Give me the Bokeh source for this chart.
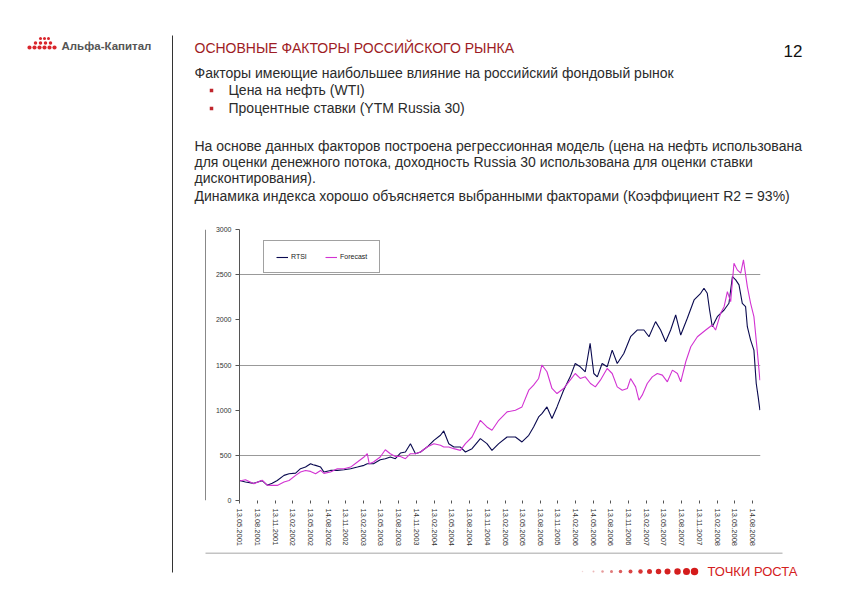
import pandas as pd
from bokeh.plotting import figure
from bokeh.layouts import row, column
from bokeh.models import Range1d, FixedTicker, Legend, LegendItem
from bokeh.core.properties import value
from bokeh.embed import file_html
from bokeh.resources import INLINE

# ---------------- data ----------------
start_date = "13.05.2001"
tick_dates = ["13.05.2001", "13.08.2001", "13.11.2001", "13.02.2002", "13.05.2002", "14.08.2002",
              "13.11.2002", "13.02.2003", "13.05.2003", "13.08.2003", "14.11.2003", "13.02.2004",
              "13.05.2004", "13.08.2004", "13.11.2004", "13.02.2005", "13.05.2005", "13.08.2005",
              "13.11.2005", "14.02.2006", "14.05.2006", "13.08.2006", "13.11.2006", "13.02.2007",
              "13.05.2007", "13.08.2007", "13.11.2007", "13.02.2008", "13.05.2008", "14.08.2008"]

# days since start_date
rtsi_day = [0, 31, 74, 117, 143, 169, 195, 230, 256, 290, 315, 341, 367, 380, 393, 419, 436, 470,
            505, 540, 574, 609, 643, 660, 692, 727, 753, 779, 805, 831, 857, 883, 909, 935, 969,
            1004, 1038, 1055, 1081, 1107, 1141, 1167, 1201, 1244, 1278, 1304, 1339, 1382, 1425,
            1459, 1494, 1519, 1545, 1562, 1588, 1614, 1640, 1674, 1708, 1734, 1760, 1786, 1811,
            1830, 1848, 1873, 1899, 1925, 1951, 1985, 2020, 2054, 2089, 2115, 2149, 2175, 2201,
            2227, 2253, 2279, 2313, 2348, 2382, 2399, 2416, 2428, 2442, 2468, 2503, 2528, 2546,
            2563, 2580, 2597, 2614, 2623, 2640, 2657, 2669, 2679, 2688]
rtsi_value = [222, 205, 190, 220, 170, 192, 222, 278, 296, 303, 352, 370, 407, 395, 389, 370, 315, 333,
              333, 340, 352, 370, 389, 407, 407, 451, 463, 481, 463, 525, 537, 629, 518, 537, 592,
              666, 722, 770, 629, 592, 592, 537, 574, 685, 629, 555, 629, 703, 703,
              648, 722, 814, 925, 962, 1036, 907, 1036, 1221, 1369, 1517, 1480, 1425, 1739,
              1406, 1369, 1517, 1480, 1665, 1517, 1628, 1813, 1887, 1887, 1813, 1980, 1887, 1758,
              1887, 2054, 1832, 2017, 2220, 2294, 2350, 2294, 2109, 1924, 2035, 2109, 2183, 2479,
              2442, 2387, 2183, 2146, 1924, 1776, 1665, 1295, 1147, 1000]

forecast_day = [0, 31, 74, 117, 143, 169, 195, 230, 256, 290, 315, 341, 367, 393, 419, 436, 470,
                505, 540, 574, 609, 643, 660, 670, 692, 727, 753, 779, 805, 831, 857, 883, 909, 935,
                969, 1004, 1038, 1055, 1081, 1107, 1141, 1167, 1201, 1244, 1278, 1304, 1339, 1382,
                1425, 1459, 1494, 1519, 1545, 1562, 1588, 1614, 1640, 1674, 1708, 1734, 1760, 1786,
                1813, 1838, 1864, 1899, 1925, 1951, 1977, 2003, 2020, 2046, 2063, 2080, 2106, 2132,
                2158, 2184, 2210, 2236, 2262, 2279, 2305, 2331, 2365, 2408, 2442, 2459, 2485, 2503,
                2520, 2537, 2554, 2571, 2589, 2603, 2623, 2640, 2657, 2674, 2688]
forecast_value = [215, 230, 185, 225, 170, 167, 167, 204, 222, 278, 315, 333, 322, 296, 333, 300, 315,
                  352, 352, 370, 426, 481, 518, 407, 426, 481, 562, 518, 488, 488, 463, 518, 518, 537,
                  592, 629, 611, 592, 592, 574, 555, 629, 703, 888, 814, 777, 888, 981,
                  1000, 1036, 1221, 1277, 1351, 1500, 1425, 1240, 1184, 1240, 1332, 1406, 1351, 1369,
                  1295, 1258, 1332, 1462, 1406, 1258, 1221, 1240, 1350, 1258, 1110, 1166, 1295, 1369,
                  1406, 1388, 1314, 1443, 1406, 1314, 1536, 1702, 1813, 1887, 1943, 1887, 2072, 2146,
                  2313, 2202, 2627, 2553, 2516, 2664, 2368, 2183, 2035, 1665, 1332]

y_ticks = [0, 500, 1000, 1500, 2000, 2500, 3000]
y_grid = [500, 1500, 2500, 3000]
series_names = ["RTSI", "Forecast"]

title_text = "ОСНОВНЫЕ ФАКТОРЫ РОССИЙСКОГО РЫНКА"
page_number = "12"
intro_line = "Факторы имеющие наибольшее влияние на российский фондовый рынок"
bullets = ["Цена на нефть (WTI)", "Процентные ставки (YTM Russia 30)"]
paragraph = ["На основе данных факторов построена регрессионная модель (цена на нефть использована",
             "для оценки денежного потока, доходность Russia 30 использована для оценки ставки",
             "дисконтирования).",
             "Динамика индекса хорошо объясняется выбранными факторами (Коэффициент R2 = 93%)"]
company = "Альфа-Капитал"
slogan = "ТОЧКИ РОСТА"

FONT = "Liberation Sans"
W, H = 826, 579
TEXT_C = "#2b2b2b"


def deco(x0, x1, y0, y1):
    """A blank panel whose data coordinates equal page pixel coordinates."""
    f = figure(width=x1 - x0, height=y1 - y0, x_range=Range1d(x0, x1), y_range=Range1d(y1, y0),
               output_backend="svg", toolbar_location=None, min_border=0,
               x_axis_location=None, y_axis_location=None)
    f.grid.visible = False
    f.outline_line_color = None
    f.background_fill_color = "white"
    f.border_fill_color = "white"
    return f


def put_text(f, xs, ys, texts, size, color=TEXT_C, style="normal", align="left"):
    f.text(x=xs, y=ys, text=texts, text_font=value(FONT), text_font_size=value(f"{size}px"),
           text_color=color, text_font_style=style, text_align=align, text_baseline="middle")


# ---------------- left panel: logo + separator ----------------
L = deco(0, 180, 0, H)
L.segment(x0=[172], y0=[35], x1=[172], y1=[572], line_color="#333333", line_width=1)
logo_x = [40, 44, 48, 35, 40, 45, 50, 29, 34, 39, 44, 49, 54]
logo_y = [38, 38, 38, 42.5, 42.5, 42.5, 42.5, 47, 47, 47, 47, 47, 47]
logo_s = [3, 3, 3, 3.5, 3.5, 3.5, 3.5, 4.2, 4.2, 4.2, 4.2, 4.2, 4.2]
L.scatter(logo_x, logo_y, size=logo_s, marker="circle", color="#d9262c", line_color=None)
put_text(L, [61], [45], [company], 11.5, color="#555555", style="bold")

# ---------------- header ----------------
HD = deco(180, W, 0, 218)
put_text(HD, [194], [47], [title_text], 14, color="#9e1c24")
put_text(HD, [783], [50], [page_number], 17, color="#111111")
put_text(HD, [194], [72], [intro_line], 14)
HD.scatter([211, 211], [90, 108], marker="square", size=3.5, color="#c0262d", line_color=None)
put_text(HD, [228, 228], [89, 107], bullets, 14)
put_text(HD, [194] * 4, [145, 161, 177, 195], paragraph, 14)

# ---------------- chart border strip ----------------
B = deco(180, 206, 218, 552)
B.segment(x0=[205], y0=[218], x1=[205], y1=[552], line_color="#888888", line_width=1)

# ---------------- chart ----------------
start = pd.to_datetime(start_date, format="%d.%m.%Y")
tick_days = [int((pd.to_datetime(d, format="%d.%m.%Y") - start).days) for d in tick_dates]

C = figure(width=W - 206, height=552 - 218, output_backend="svg", toolbar_location=None,
           x_range=Range1d(0, 2691), y_range=Range1d(0, 3000),
           min_border_left=239 - 206, min_border_right=W - 760,
           min_border_top=229 - 218, min_border_bottom=552 - 500)
C.outline_line_color = None
C.background_fill_color = "white"
C.border_fill_color = "white"

r1 = C.line(rtsi_day, rtsi_value, line_color="#0a0a50", line_width=1.1)
r2 = C.line(forecast_day, forecast_value, line_color="#d233d2", line_width=1.1)

C.yaxis.ticker = FixedTicker(ticks=y_ticks)
C.yaxis.axis_line_color = "#555555"
C.yaxis.major_tick_line_color = "#555555"
C.yaxis.major_tick_out = 4
C.yaxis.major_tick_in = 0
C.yaxis.minor_tick_line_color = None
C.yaxis.major_label_text_font = FONT
C.yaxis.major_label_text_font_size = "7px"
C.yaxis.major_label_text_color = "#333333"
C.yaxis.major_label_standoff = 4

C.xaxis.ticker = FixedTicker(ticks=tick_days)
C.xaxis.major_label_overrides = {d: s for d, s in zip(tick_days, tick_dates)}
C.xaxis.major_label_orientation = "vertical"
C.xaxis.axis_line_color = None
C.xaxis.major_tick_line_color = "#555555"
C.xaxis.major_tick_out = 3
C.xaxis.major_tick_in = 0
C.xaxis.minor_tick_line_color = None
C.xaxis.major_label_text_font = FONT
C.xaxis.major_label_text_font_size = "7.5px"
C.xaxis.major_label_text_color = "#333333"
C.xaxis.major_label_standoff = 5

C.xgrid.visible = False
C.ygrid.ticker = FixedTicker(ticks=y_grid)
C.ygrid.grid_line_color = "#999999"
C.ygrid.grid_line_width = 1

legend = Legend(items=[LegendItem(label=series_names[0], renderers=[r1]),
                       LegendItem(label=series_names[1], renderers=[r2])],
                location=(263 - 239, 500 - 273), orientation="horizontal", padding=12,
                spacing=14, glyph_width=12, glyph_height=6, label_height=6,
                label_standoff=3, label_text_font=FONT, label_text_font_size="7px",
                label_text_color="#222222", border_line_color="#444444",
                border_line_width=1, margin=0, background_fill_color="white",
                background_fill_alpha=1)
C.add_layout(legend)

# ---------------- footer ----------------
F = deco(180, W, 552, H)
F.segment(x0=[205], y0=[552.5], x1=[782], y1=[552.5], line_color="#888888", line_width=1)
foot_x = [582, 593, 602, 611, 620, 630, 640, 649, 658, 667, 677, 686, 694]
foot_s = [1.5, 2, 2.5, 3, 3.5, 4, 4.5, 5, 5.5, 6, 6.5, 7, 7.5]
foot_c = ["#f2d6d6", "#ecb8b8", "#e69a9a", "#e07a7a", "#dc5c5c", "#da4444", "#d83434",
          "#d72a2a", "#d62424", "#d52020", "#d41e1e", "#d41c1c", "#d41a1a"]
F.scatter(foot_x, [571] * len(foot_x), size=foot_s, color=foot_c, line_color=None, marker="circle")
put_text(F, [707], [571], [slogan], 13, color="#d42020")

layout = row(L, column(HD, row(B, C, spacing=0), F, spacing=0), spacing=0)

open("out.html", "w").write(file_html(layout, INLINE))
